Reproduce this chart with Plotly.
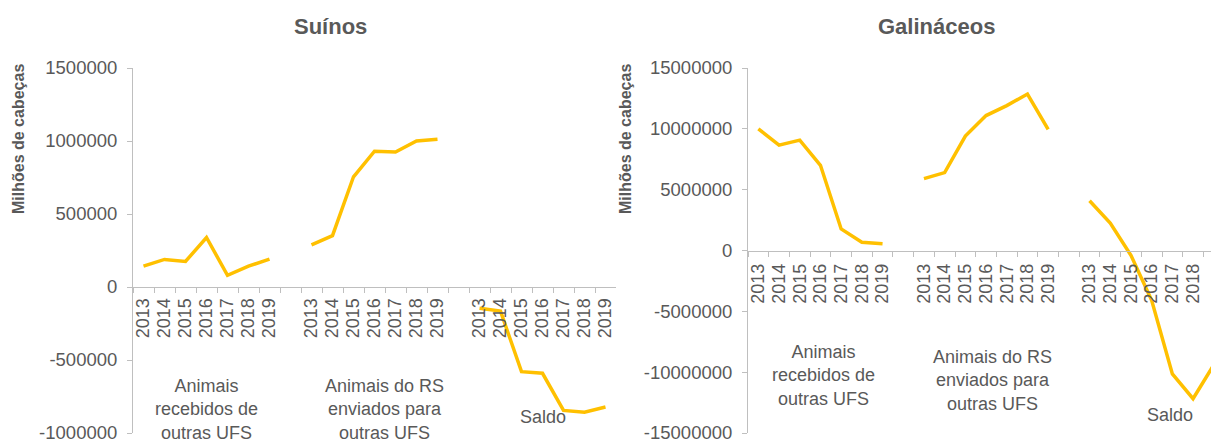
import plotly.graph_objects as go

# ---- data -------------------------------------------------------------
anos = ["2013", "2014", "2015", "2016", "2017", "2018", "2019"]
grupos = [
    "Animais<br>recebidos de<br>outras UFS",
    "Animais do RS<br>enviados para<br>outras UFS",
    "Saldo",
]

suinos_recebidos = [143000, 189000, 175000, 339000, 80000, 143000, 191000]
suinos_enviados = [289000, 352000, 755000, 930000, 925000, 1000000, 1012000]
suinos_saldo = [-146000, -165000, -580000, -591000, -845000, -858000, -822000]

galinaceos_recebidos = [10000000, 8660000, 9070000, 7000000, 1770000, 680000, 550000]
galinaceos_enviados = [5910000, 6400000, 9400000, 11090000, 11910000, 12860000, 9950000]
galinaceos_saldo = [4090000, 2260000, -400000, -4090000, -10140000, -12180000, -9400000]

suinos_ticks = [-1000000, -500000, 0, 500000, 1000000, 1500000]
galinaceos_ticks = [-15000000, -10000000, -5000000, 0, 5000000, 10000000, 15000000]

# ---- styling ----------------------------------------------------------
W, H = 1211, 442
FONT = "Liberation Sans, Arial, sans-serif"
TXT = "#595959"
AXIS = "#bfbfbf"
GOLD = "#FFC000"


def fx(px):
    return px / W


def fy(py):
    return 1 - py / H


# categories: 7 years per group, one empty slot between groups
cat_keys, cat_text, mid_keys = [], [], []
for gi in range(len(grupos)):
    for a in anos:
        cat_keys.append(f"g{gi}-{a}")
        cat_text.append(a)
    mid_keys.append(f"g{gi}-2016")
    if gi < len(grupos) - 1:
        cat_keys.append(f"g{gi}-sep")
        cat_text.append("")


def serie(*grupos_vals):
    out = []
    for gi, vals in enumerate(grupos_vals):
        out.extend(vals)
        if gi < len(grupos_vals) - 1:
            out.append(None)
    return out


fig = go.Figure()
fig.add_trace(go.Scatter(
    x=cat_keys, y=serie(suinos_recebidos, suinos_enviados, suinos_saldo),
    xaxis="x", yaxis="y", mode="lines", connectgaps=False,
    line=dict(color=GOLD, width=3.5), hoverinfo="skip", showlegend=False,
))
fig.add_trace(go.Scatter(
    x=cat_keys, y=serie(galinaceos_recebidos, galinaceos_enviados, galinaceos_saldo),
    xaxis="x2", yaxis="y2", mode="lines", connectgaps=False,
    line=dict(color=GOLD, width=3.5), hoverinfo="skip", showlegend=False,
))


def zero_pos(dom, rng):
    return dom[0] + (0 - rng[0]) / (rng[1] - rng[0]) * (dom[1] - dom[0])


def x_axis(dom, rng, ydom, yrng, standoff):
    return dict(
        domain=dom, range=rng, type="category",
        categoryorder="array", categoryarray=cat_keys,
        tickmode="array", tickvals=cat_keys, ticktext=cat_text,
        tickangle=-90, tickson="boundaries",
        ticks="outside", ticklen=5, tickcolor=AXIS, tickwidth=1,
        showline=True, linecolor=AXIS, linewidth=1,
        showgrid=False, zeroline=False,
        anchor="free", position=zero_pos(ydom, yrng),
        ticklabelstandoff=standoff,
        tickfont=dict(family=FONT, size=18, color=TXT),
        automargin=False, fixedrange=True,
    )


def y_axis(dom, rng, ticks, anchor):
    return dict(
        domain=dom, range=rng, anchor=anchor,
        tickmode="array", tickvals=ticks, ticktext=[str(v) for v in ticks],
        ticks="outside", ticklen=5, tickcolor=AXIS, tickwidth=1,
        showline=True, linecolor=AXIS, linewidth=1,
        showgrid=False, zeroline=False,
        ticklabelstandoff=6, ticklabeloverflow="allow",
        tickfont=dict(family=FONT, size=18.5, color=TXT),
        automargin=False, fixedrange=True,
    )


x1_dom = [fx(133), fx(616)]
y1_dom = [fy(433), fy(68)]
y1_rng = [suinos_ticks[0], suinos_ticks[-1]]
x1_rng = [-0.5, len(cat_keys) - 0.5]

x2_dom = [fx(748), 1.0]
y2_dom = [fy(433), fy(68)]
y2_rng = [galinaceos_ticks[0], galinaceos_ticks[-1]]
x2_rng = [-0.5, -0.5 + (W - 748) / 20.7]

annotations = []

# chart titles
for text, cx in (("Suínos", 330), ("Galináceos", 936)):
    annotations.append(dict(
        text=f"<b>{text}</b>", xref="paper", yref="paper",
        x=fx(cx), y=fy(26), xanchor="center", yanchor="middle",
        showarrow=False, font=dict(family=FONT, size=22, color=TXT),
    ))

# vertical axis titles
for cx in (18, 625):
    annotations.append(dict(
        text="<b>Milhões de cabeças</b>", xref="paper", yref="paper",
        x=fx(cx), y=fy(139), xanchor="center", yanchor="middle",
        textangle=-90, showarrow=False,
        font=dict(family=FONT, size=16, color=TXT),
    ))

# group labels under each block of years
grupo_pos = {
    "x": [(0, 409), (10, 409), (0, 417)],
    "x2": [(3, 375), (6, 380), (18, 415)],
}
for xref, posicoes in grupo_pos.items():
    for gi, (dx, cy) in enumerate(posicoes):
        annotations.append(dict(
            text=grupos[gi], xref=xref, yref="paper",
            x=mid_keys[gi], y=fy(cy), xshift=dx,
            xanchor="center", yanchor="middle", align="center",
            showarrow=False, font=dict(family=FONT, size=18, color=TXT),
        ))

fig.update_layout(
    width=W, height=H, autosize=False,
    margin=dict(l=0, r=0, t=0, b=0, pad=0),
    paper_bgcolor="white", plot_bgcolor="white",
    font=dict(family=FONT, color=TXT),
    xaxis=x_axis(x1_dom, x1_rng, y1_dom, y1_rng, 3),
    yaxis=y_axis(y1_dom, y1_rng, suinos_ticks, "x"),
    xaxis2=x_axis(x2_dom, x2_rng, y2_dom, y2_rng, 5),
    yaxis2=y_axis(y2_dom, y2_rng, galinaceos_ticks, "x2"),
    annotations=annotations,
    showlegend=False,
)

fig.write_html("out.html", config={"displayModeBar": False})
